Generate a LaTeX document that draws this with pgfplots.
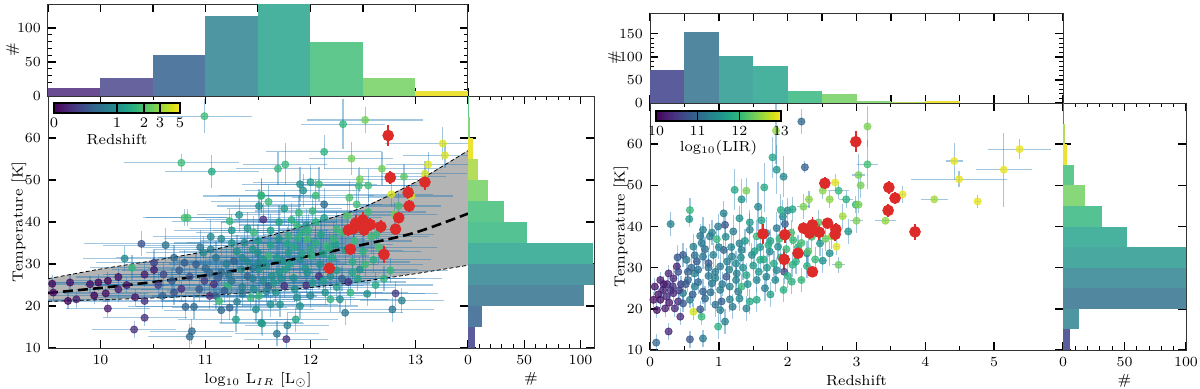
\documentclass[border=0pt]{standalone}
\usepackage{pgfplots}
\pgfplotsset{compat=1.18}
\usepackage{pgfplotstable}
\usetikzlibrary{calc}

\definecolor{errc}{HTML}{1F77B4}
\definecolor{redc}{HTML}{DC2B29}
\definecolor{bandc}{HTML}{B4B4B4}
\definecolor{v1}{HTML}{6A4C93}
\definecolor{v2}{HTML}{66639F}
\definecolor{v3}{HTML}{5A5C9C}
\definecolor{v4}{HTML}{52799F}
\definecolor{v5}{HTML}{5287A0}
\definecolor{v6}{HTML}{4E96A1}
\definecolor{v7}{HTML}{49A9A0}
\definecolor{v8}{HTML}{48B29E}
\definecolor{v9}{HTML}{55C294}
\definecolor{v10}{HTML}{5FC88C}
\definecolor{v11}{HTML}{88D778}
\definecolor{v12}{HTML}{B5DD5C}
\definecolor{v13}{HTML}{EBE235}

\pgfplotsset{
  panel/.style={
    scale only axis, anchor=south west,
    font=\fontsize{7.3}{8.8}\selectfont,
    tick align=inside, tick pos=both,
    major tick length=4pt, minor tick length=2pt,
    tick style={black, line width=0.7pt},
    minor tick style={line width=0.45pt},
    axis line style={black!80, line width=0.5pt},
    xlabel shift=-2.5pt, ylabel shift=-7.5pt,
  },
  tophist/.style={ylabel shift=-8pt},
  cbar/.style={
    scale only axis, anchor=north west,
    font=\fontsize{7.3}{8.8}\selectfont,
    height=5pt, xticklabel pos=lower,
    major tick length=5pt, tick align=inside,
    tick style={black, line width=0.7pt},
    minor tick num=0,
    axis line style={black, line width=0.6pt},
    xticklabel style={yshift=1pt},
    xlabel style={yshift=4pt},
  },
  errs/.style={draw=none, forget plot,
    error bars/.cd, x dir=both, x explicit, y dir=both, y explicit, error mark=none,
    error bar style={draw=errc, draw opacity=0.42, line width=0.6pt}},
  dots/.style={scatter, only marks, mark=*, mark size=1.8pt,
    scatter/use mapped color={draw=mapped color, fill=mapped color, opacity=0.75}},
  reds/.style={only marks, mark=*, mark size=2.7pt, color=redc,
    error bars/.cd, y dir=both, y explicit, error mark=none,
    error bar style={line width=0.9pt}},
}

% log10 LIR, T, errors, redshift
\pgfplotstableread{
x y ex ey c
10.99 65.2 0.45 4 1.8
10.77 54.1 0.55 2 1.8
11.06 52.0 0.45 4 1.4
10.80 41.0 0.40 2 1.9
10.83 41.0 0.40 2 1.9
11.32 41.7 0.40 4 1.0
11.23 40.2 0.55 3 1.7
10.39 34.8 0.55 3 0.45
10.62 34.5 0.60 4 0.7
10.23 31.3 0.40 3 0.9
10.30 29.1 0.40 3 1.7
10.51 30.3 0.55 3 0.35
10.51 28.6 0.40 3 0.25
10.42 27.5 0.40 3 0.25
10.17 26.9 0.40 2 0.22
10.07 26.0 0.40 2 0.2
9.98 25.6 0.40 2 0.2
9.90 25.2 0.40 2 0.22
9.71 25.6 0.40 2 0.22
9.54 25.3 0.40 2 0.2
9.55 23.2 0.40 2 0.22
9.69 21.2 0.40 2 0.2
9.77 21.6 0.40 2 0.25
9.94 22.5 0.40 2 0.2
10.07 19.4 0.40 2 0.25
10.17 24.0 0.40 3 0.25
10.33 22.1 0.40 2 0.25
10.42 21.2 0.40 2 0.3
10.42 17.2 0.40 2 0.3
10.32 14.4 0.40 2 0.3
10.68 26.0 0.55 3 0.5
10.70 23.2 0.55 3 0.45
10.77 24.1 0.55 3 0.3
10.59 22.4 0.55 3 0.55
10.81 19.8 0.55 3 0.55
10.89 19.8 0.55 3 0.6
10.87 14.0 0.40 3 0.6
10.85 12.7 0.40 3 0.6
10.91 29.9 0.55 3 0.5
10.98 32.7 0.55 4 0.9
10.80 30.3 0.55 3 0.5
11.04 27.9 0.55 4 0.55
10.99 26.0 0.55 3 0.35
11.12 26.7 0.55 3 0.5
11.21 24.8 0.55 3 1.6
11.10 22.4 0.55 3 0.55
11.23 19.6 0.55 3 0.55
11.13 21.2 0.55 3 1.8
11.29 16.8 0.55 3 1.2
11.34 28.7 0.55 3 0.9
11.27 30.7 0.55 4 0.55
11.37 35.1 0.55 4 0.9
11.46 37.5 0.55 4 1.7
11.50 32.7 0.55 3 1.0
11.53 46.4 0.40 4 1.6
11.51 43.8 0.40 4 1.0
11.40 27.1 0.55 3 0.55
11.46 24.0 0.55 3 1.0
11.43 22.0 0.55 3 1.7
11.53 16.0 0.40 3 1.0
11.08 25.2 0.55 3 0.3
11.18 23.6 0.55 3 0.5
10.94 24.0 0.55 3 0.5
11.04 22.4 0.55 3 0.3
12.31 63.3 0.40 6 1.7
12.52 64.3 0.55 3 2.5
12.13 56.7 0.55 4 1.6
12.39 55.1 0.40 4 2.5
11.69 52.7 0.40 4 1.7
11.76 53.7 0.40 5 1.7
12.68 52.7 0.55 4 2.5
12.89 50.8 0.40 3 2.2
13.26 58.7 0.55 4 4.2
13.28 55.9 0.40 3 4.2
13.12 53.7 0.40 3 4.2
13.09 51.5 0.40 3 4.0
12.77 46.6 0.40 3 4.2
12.96 46.2 0.40 3 4.2
11.90 49.0 0.55 4 1.0
12.00 49.5 0.55 4 1.2
12.08 49.0 0.55 4 1.8
11.93 47.5 0.55 4 1.0
11.53 46.2 0.55 4 1.6
11.60 44.8 0.55 4 1.8
11.75 43.2 0.55 4 1.2
12.05 46.3 0.55 4 1.8
12.13 44.2 0.55 4 0.6
12.37 45.8 0.55 4 2.0
12.46 48.6 0.55 4 1.8
12.47 50.2 0.55 3 2.5
12.55 48.7 0.55 4 1.9
12.44 44.2 0.55 4 1.9
11.89 42.2 0.55 4 1.8
12.02 42.6 0.55 4 1.7
12.13 41.0 0.55 4 1.2
11.87 39.3 0.55 4 1.7
11.96 39.2 0.55 4 1.0
11.55 40.6 0.55 4 0.3
12.25 38.3 0.55 4 1.7
12.55 42.4 0.55 4 1.9
12.80 41.8 0.40 3 2.5
12.84 43.8 0.40 3 1.9
12.63 37.1 0.55 3 1.8
11.79 36.7 0.55 4 1.6
11.97 35.9 0.55 4 1.9
12.15 34.3 0.55 4 1.8
12.24 34.7 0.55 4 1.2
12.33 33.3 0.55 3 1.2
11.60 31.9 0.55 4 1.8
11.79 32.7 0.55 4 1.2
11.90 31.1 0.55 4 1.0
12.01 31.9 0.55 4 1.6
12.09 29.9 0.55 4 1.0
11.73 30.7 0.55 4 1.0
11.51 28.7 0.55 3 1.0
11.63 27.1 0.55 3 1.0
11.76 28.7 0.55 3 1.2
11.84 26.7 0.55 3 1.0
11.97 27.9 0.55 3 1.0
12.08 27.1 0.55 3 0.3
12.19 27.1 0.55 3 1.0
12.30 26.5 0.55 3 0.55
12.36 25.7 0.55 3 0.3
12.47 28.7 0.55 3 1.0
12.52 29.9 0.55 3 1.8
12.76 28.5 0.55 3 1.7
11.96 24.9 0.55 3 0.3
11.75 24.8 0.55 3 0.3
11.60 24.8 0.55 3 0.55
11.51 22.4 0.55 3 1.7
11.67 23.2 0.55 3 1.0
11.87 22.0 0.55 3 1.0
12.14 23.2 0.55 3 1.0
12.19 21.6 0.55 3 1.6
12.28 21.6 0.55 3 1.0
12.38 23.2 0.55 3 1.7
12.54 22.9 0.55 3 1.0
12.81 23.0 0.40 3 0.35
12.87 21.3 0.40 3 0.8
12.78 19.2 0.40 3 0.7
12.33 18.4 0.55 3 0.7
11.54 15.8 0.40 3 1.2
11.78 15.4 0.40 3 0.8
11.68 13.4 0.40 3 0.7
11.77 12.1 0.40 3 0.3
11.86 16.8 0.40 3 1.3
11.62 20.4 0.55 3 1.0
11.71 20.4 0.55 3 1.0
11.48 19.2 0.55 3 1.0
11.20 30.0 0.55 4 0.8
11.30 33.0 0.55 4 1.0
11.40 30.5 0.55 4 0.9
11.45 29.0 0.55 3 0.7
11.55 31.0 0.55 4 1.1
11.62 34.5 0.55 4 1.3
11.70 36.0 0.55 4 1.1
11.85 34.0 0.55 4 1.4
11.92 37.5 0.55 4 1.5
12.10 37.0 0.55 4 1.3
12.20 31.5 0.55 4 1.4
11.15 28.0 0.55 3 0.6
11.25 26.0 0.55 3 0.7
11.35 24.5 0.55 3 0.8
11.55 26.0 0.55 3 0.9
11.65 25.5 0.55 3 1.1
11.80 30.0 0.55 4 1.2
12.00 33.5 0.55 4 1.5
11.40 38.5 0.55 4 1.1
11.70 40.0 0.55 4 1.4
11.10 31.5 0.55 4 0.7
11.00 29.0 0.55 3 0.6
10.85 27.0 0.55 3 0.45
10.75 28.5 0.55 3 0.5
11.50 35.5 0.55 4 1.2
12.40 30.5 0.55 4 1.5
12.25 28.5 0.55 3 1.2
11.95 29.0 0.55 3 1.1
11.30 21.0 0.55 3 0.8
11.90 20.0 0.55 3 1.0
11.05 33.5 0.55 4 0.8
11.15 36.0 0.55 4 0.9
11.25 38.0 0.55 4 1.1
11.35 31.5 0.55 4 0.9
11.45 33.5 0.55 4 1.1
11.58 29.5 0.55 3 1.0
11.68 31.5 0.55 4 1.2
11.78 34.8 0.55 4 1.4
11.88 36.2 0.55 4 1.6
11.98 38.0 0.55 4 1.7
12.05 35.0 0.55 4 1.5
12.12 32.5 0.55 4 1.3
12.22 36.0 0.55 4 1.7
12.30 37.5 0.55 4 1.9
12.42 35.5 0.55 4 1.8
12.50 33.0 0.55 4 1.6
12.60 31.0 0.55 3 1.5
12.65 34.0 0.55 4 2.1
11.62 38.0 0.55 4 1.3
11.82 40.5 0.55 4 1.5
12.05 40.0 0.55 4 1.6
12.35 41.5 0.55 4 2.0
11.25 35.0 0.55 4 1.0
11.05 36.5 0.55 4 0.9
10.95 34.0 0.55 4 0.7
10.70 31.5 0.55 3 0.6
10.60 27.5 0.55 3 0.4
10.55 25.0 0.55 3 0.35
10.25 25.0 0.40 2 0.25
10.05 23.0 0.40 2 0.22
11.45 26.5 0.55 3 0.8
11.58 23.5 0.55 3 0.9
11.72 26.5 0.55 3 1.0
11.85 24.0 0.55 3 1.0
12.02 25.5 0.55 3 1.1
12.12 26.0 0.55 3 1.2
12.25 24.5 0.55 3 1.2
12.45 26.5 0.55 3 1.3
12.62 25.0 0.55 3 1.4
12.00 22.5 0.55 3 0.9
11.35 23.0 0.55 3 0.7
11.22 27.5 0.55 3 0.7
11.50 30.0 0.55 3 0.9
11.92 32.5 0.55 4 1.3
12.18 33.8 0.55 4 1.5
12.58 36.5 0.55 4 1.8
11.70 28.0 0.55 3 1.1
12.40 28.0 0.55 3 1.4
12.70 26.5 0.55 3 1.6
11.15 19.0 0.55 3 0.6
}\lirdata

\pgfplotstableread{
x y ey
12.74 60.6 2.5
12.76 50.6 1.5
13.09 49.5 1.8
12.93 47.0 1.5
12.94 43.8 1.5
12.84 41.0 1.2
12.81 38.3 1.2
12.67 38.9 1.5
12.57 39.4 1.5
12.50 40.5 1.8
12.43 39.7 2.0
12.51 38.1 1.5
12.36 38.1 1.5
12.41 38.4 2.0
12.38 33.5 1.0
12.70 32.3 2.0
12.18 29.0 1.0
}\lirred

% redshift, T, errors, log10 LIR
\pgfplotstableread{
x y ex ey c
2.20 65.5 0.03 3 11.0
2.25 54.4 0.02 1.5 10.9
1.83 63.3 0.02 8 12.5
1.78 56.8 0.02 5 11.8
1.84 53.8 0.03 6 11.6
1.94 52.1 0.03 5 11.4
2.69 50.7 0.05 2 12.9
2.51 48.7 0.05 2 12.5
2.74 48.7 0.15 2 12.0
1.23 48.9 0.02 5 11.8
1.40 48.7 0.03 3 12.4
1.66 49.5 0.02 6 11.8
1.33 46.6 0.02 5 11.5
0.58 44.0 0.02 3 12.0
0.57 41.8 0.02 2 11.6
0.30 40.6 0.02 3 11.3
1.57 44.8 0.03 6 11.4
2.00 43.9 0.05 3 11.4
2.07 44.2 0.05 3 11.8
2.23 44.8 0.10 3 12.4
2.31 46.6 0.05 2 12.5
2.61 46.6 0.05 2 12.5
2.85 46.6 0.10 2 11.9
2.99 45.3 0.05 2 12.0
1.93 42.4 0.02 4 11.4
1.84 39.6 0.02 4 11.2
1.96 40.6 0.02 4 10.9
1.07 43.2 0.02 3 11.3
1.09 40.4 0.02 3 10.8
0.99 40.0 0.02 3 11.2
0.77 39.2 0.02 3 11.3
0.87 37.6 0.02 3 11.3
0.73 37.7 0.02 3 11.2
1.21 38.8 0.02 4 11.2
1.30 35.9 0.02 3 11.3
1.45 39.2 0.02 4 11.3
1.55 37.6 0.02 4 12.0
1.69 38.4 0.02 4 11.4
0.97 36.9 0.02 3 12.0
0.63 35.1 0.02 3 11.3
0.48 33.1 0.02 3 10.8
0.77 32.7 0.02 3 11.2
0.92 33.1 0.02 3 11.3
1.07 34.3 0.02 3 10.9
1.19 32.7 0.02 3 11.3
1.33 34.3 0.02 3 11.3
1.48 33.1 0.02 3 11.4
1.60 31.9 0.02 3 11.9
1.74 33.9 0.02 3 11.4
1.86 35.1 0.02 3 11.5
2.08 36.7 0.03 3 12.0
2.28 33.5 0.03 3 11.4
2.47 35.9 0.05 3 11.6
2.64 37.6 0.05 3 12.5
2.71 35.1 0.05 2 12.9
2.88 38.8 0.05 3 11.6
2.61 33.5 0.05 3 11.5
2.74 30.7 0.10 2 12.3
2.51 31.7 0.05 3 11.5
2.28 30.4 0.03 3 11.9
2.07 30.7 0.03 3 11.9
1.95 29.0 0.02 3 10.6
1.84 29.4 0.02 3 11.4
1.69 27.8 0.02 3 11.4
1.55 27.0 0.02 3 11.4
1.40 28.2 0.02 3 11.8
1.26 28.6 0.02 3 11.3
1.11 27.8 0.02 3 10.8
1.02 30.3 0.02 3 11.2
0.85 31.1 0.02 3 10.8
0.68 31.5 0.02 3 10.8
0.53 31.9 0.02 3 11.2
0.39 30.3 0.02 3 10.3
0.27 28.6 0.02 2 10.3
0.15 27.0 0.02 2 10.2
0.07 25.4 0.01 2 10.1
0.19 24.6 0.01 2 10.2
0.05 22.2 0.01 2 10.1
0.15 22.2 0.01 2 10.1
0.24 23.0 0.01 2 10.3
0.34 23.8 0.01 2 10.3
0.41 21.8 0.01 2 10.3
0.22 20.1 0.01 2 10.2
0.10 19.7 0.01 2 10.1
0.36 20.1 0.01 2 10.3
0.48 21.3 0.02 2 10.8
0.58 22.2 0.02 2 11.2
0.63 19.3 0.02 2 12.8
0.75 18.1 0.02 2 12.0
0.73 19.9 0.02 2 10.8
0.48 23.8 0.02 2 11.3
0.65 25.4 0.02 3 11.3
0.77 24.2 0.02 3 10.9
0.90 26.2 0.02 3 11.2
1.02 24.6 0.02 3 11.3
1.16 25.4 0.02 3 11.3
1.04 21.8 0.02 3 10.9
1.16 22.3 0.02 3 11.3
1.02 19.7 0.02 3 11.3
1.09 16.9 0.02 3 11.3
0.99 15.7 0.02 3 11.9
1.28 24.2 0.02 3 11.2
1.33 25.4 0.02 3 12.0
1.45 21.8 0.02 3 11.8
1.55 22.2 0.02 3 11.8
1.67 25.0 0.02 3 11.3
1.82 27.0 0.02 3 11.4
1.94 24.6 0.02 3 11.9
2.06 26.6 0.03 3 11.9
1.40 20.1 0.02 3 11.3
0.27 14.5 0.01 2 10.3
0.09 11.8 0.01 2 11.0
0.58 12.6 0.02 2 10.8
0.77 12.8 0.02 2 11.2
0.44 18.1 0.01 2 10.3
0.34 27.4 0.02 3 10.3
0.41 29.0 0.02 3 10.7
0.65 28.6 0.02 3 11.3
3.16 64.3 0.02 5 12.4
3.16 55.1 0.15 6 12.1
3.03 52.5 0.10 5 12.4
3.06 50.0 0.03 3 12.4
3.03 45.3 0.05 2 12.4
3.00 41.4 0.10 3 12.4
3.42 41.4 0.15 0.5 12.5
3.67 47.8 0.05 2 12.9
4.13 46.6 0.20 0.5 12.6
4.42 55.9 0.12 4.5 12.9
4.49 51.5 0.70 2 12.9
4.76 46.1 0.05 1.5 12.9
5.14 53.8 0.41 9 12.9
5.37 58.8 0.46 2.5 12.9
0.55 27.0 0.02 3 11.0
0.70 29.5 0.02 3 11.1
0.85 28.0 0.02 3 11.2
0.95 27.5 0.02 3 11.3
1.15 29.5 0.02 3 11.3
1.25 31.0 0.02 3 11.4
1.35 30.0 0.02 3 11.5
1.50 30.5 0.02 3 11.6
1.60 35.0 0.02 3 11.6
1.75 36.5 0.02 3 11.7
1.90 32.5 0.02 3 11.8
2.15 35.0 0.03 3 11.9
2.35 37.5 0.03 3 12.1
1.00 35.0 0.02 3 11.3
0.80 34.5 0.02 3 11.1
0.60 30.0 0.02 3 11.0
0.45 26.0 0.02 2 10.6
0.30 24.5 0.02 2 10.4
0.25 26.0 0.02 2 10.4
1.20 20.5 0.02 3 11.2
1.70 30.0 0.02 3 11.6
2.45 41.0 0.05 3 12.2
2.80 42.5 0.05 3 12.6
1.30 42.0 0.02 3 11.5
0.12 23.5 0.01 2 10.1
0.20 26.0 0.01 2 10.2
0.28 21.5 0.01 2 10.2
0.33 25.5 0.02 2 10.4
0.42 24.5 0.02 2 10.5
0.52 26.0 0.02 3 10.8
0.62 23.5 0.02 3 10.9
0.70 26.5 0.02 3 11.0
0.80 22.5 0.02 3 11.0
0.88 24.0 0.02 3 11.1
0.95 29.0 0.02 3 11.2
1.05 26.0 0.02 3 11.2
1.12 31.5 0.02 3 11.3
1.18 35.0 0.02 3 11.4
1.25 27.0 0.02 3 11.3
1.32 32.5 0.02 3 11.5
1.38 36.5 0.02 3 11.6
1.42 26.0 0.02 3 11.5
1.52 34.0 0.02 3 11.7
1.58 29.0 0.02 3 11.6
1.65 32.0 0.02 3 11.8
1.72 35.5 0.02 3 11.9
1.80 31.0 0.02 3 11.8
1.88 37.0 0.02 3 12.0
1.98 34.5 0.02 3 12.0
2.05 38.5 0.03 3 12.1
2.12 31.5 0.03 3 11.9
2.20 36.0 0.03 3 12.1
2.30 34.0 0.03 3 12.2
2.40 32.0 0.03 3 12.0
2.55 37.0 0.05 3 12.3
0.75 36.0 0.02 3 11.2
0.90 38.5 0.02 3 11.3
0.65 33.0 0.02 3 11.1
0.55 29.0 0.02 3 10.9
0.85 30.0 0.02 3 11.1
1.10 37.5 0.02 3 11.4
1.45 41.0 0.02 3 11.6
1.62 41.5 0.02 4 11.7
1.90 44.0 0.02 4 11.9
0.40 32.5 0.02 3 10.8
0.95 21.0 0.02 3 11.1
1.30 22.5 0.02 3 11.4
1.75 23.5 0.02 3 11.7
2.00 28.0 0.02 3 11.9
2.20 27.0 0.03 3 12.0
}\zdata

\pgfplotstableread{
x y ey
2.99 60.6 2.5
2.54 50.5 1.5
1.64 38.2 2.5
1.96 38.0 2.0
1.95 32.0 2.5
2.15 33.5 1.0
2.23 39.6 1.5
2.36 40.4 2.0
2.32 38.4 1.5
2.46 38.6 2.0
2.58 40.8 1.0
2.70 39.3 1.5
2.69 38.1 1.5
2.36 29.0 1.0
3.47 49.5 1.5
3.56 46.9 1.5
3.46 43.9 1.5
3.85 38.7 2.0
}\zred

\begin{document}
\begin{tikzpicture}
\path[use as bounding box] (0,0) rectangle (600pt,194pt);

% ---------------- left panel: T vs LIR ----------------
\begin{axis}[panel, at={(24pt,20pt)}, width=210pt, height=126pt,
  xmin=9.5, xmax=13.5, ymin=10, ymax=70,
  xtick={10,11,12,13}, minor x tick num=1, ytick={10,20,...,60},
  xlabel={log$_{10}$ L$_{IR}$ [L$_\odot$]}, ylabel={Temperature [K]},
  colormap/viridis, point meta min=-1.6094, point meta max=1.6094,
  colorbar horizontal,
  colorbar style={cbar, at={($(parent axis.north west)+(3pt,5pt)$)}, width=63pt,
    xtick={-1.609,0,0.6931,1.0986,1.609}, xticklabels={0,1,2,3,5},
    xlabel={Redshift}},
]
% model band: upper curve left to right, then lower curve right to left
\addplot[fill=bandc, draw=none, forget plot] coordinates {
  (9.5,26.5) (10,28.8) (10.5,30.8) (11,33.0) (11.5,36.0) (12,39.5) (12.5,43.5) (13,49.5) (13.5,57.0)
  (13.5,29.7) (13,27.7) (12.5,25.9) (12,24.4) (11.5,23.3) (11,22.5) (10.5,21.9) (10,21.5) (9.5,21.1)};
\addplot[errs] table[x=x, y=y, x error=ex, y error=ey] {\lirdata};
\addplot[dots, point meta={ln(\thisrow{c})}] table[x=x, y=y] {\lirdata};
\addplot[black, line width=0.4pt, dash pattern=on 2pt off 1.2pt, smooth]
  coordinates {(9.5,26.5) (10,28.8) (10.5,30.8) (11,33.0) (11.5,36.0) (12,39.5) (12.5,43.5) (13,49.5) (13.5,57.0)};
\addplot[black, line width=0.4pt, dash pattern=on 2pt off 1.2pt, smooth]
  coordinates {(9.5,21.1) (10,21.5) (10.5,21.9) (11,22.5) (11.5,23.3) (12,24.4) (12.5,25.9) (13,27.7) (13.5,29.7)};
\addplot[black, line width=1.3pt, dash pattern=on 5pt off 2.5pt, smooth]
  coordinates {(9.5,23.1) (10,24.3) (10.5,25.7) (11,27.3) (11.5,29.4) (12,32.0) (12.5,34.6) (13,37.5) (13.5,42.0)};
\addplot[reds] table[x=x, y=y, y error=ey] {\lirred};
\end{axis}

\begin{axis}[panel, tophist, at={(24pt,146pt)}, width=210pt, height=46pt,
  xmin=9.5, xmax=13.5, ymin=0, ymax=135,
  xtick distance=0.5, xticklabel=\empty, ytick={0,50,100}, minor y tick num=4,
  ylabel={\#}]
\addplot[ybar interval, fill=v1, draw=none] coordinates {(9.5,12) (10,12)};
\addplot[ybar interval, fill=v2, draw=none] coordinates {(10,26) (10.5,26)};
\addplot[ybar interval, fill=v4, draw=none] coordinates {(10.5,60) (11,60)};
\addplot[ybar interval, fill=v6, draw=none] coordinates {(11,117) (11.5,117)};
\addplot[ybar interval, fill=v8, draw=none] coordinates {(11.5,137) (12,137)};
\addplot[ybar interval, fill=v10, draw=none] coordinates {(12,79) (12.5,79)};
\addplot[ybar interval, fill=v11, draw=none] coordinates {(12.5,26) (13,26)};
\addplot[ybar interval, fill=v13, draw=none] coordinates {(13,7) (13.5,7)};
\end{axis}

\begin{axis}[panel, at={(234pt,20pt)}, width=63pt, height=126pt,
  xmin=0, xmax=112, ymin=10, ymax=70,
  xtick={0,50,100}, minor x tick num=4, ytick={10,20,...,60}, yticklabel=\empty,
  xlabel={\#}]
\addplot[xbar interval, fill=v3, draw=none] coordinates {(6,10) (6,15)};
\addplot[xbar interval, fill=v4, draw=none] coordinates {(12,15) (12,20)};
\addplot[xbar interval, fill=v5, draw=none] coordinates {(103,20) (103,25)};
\addplot[xbar interval, fill=v6, draw=none] coordinates {(114,25) (114,30)};
\addplot[xbar interval, fill=v8, draw=none] coordinates {(111,30) (111,35)};
\addplot[xbar interval, fill=v9, draw=none] coordinates {(52,35) (52,40)};
\addplot[xbar interval, fill=v10, draw=none] coordinates {(32,40) (32,45)};
\addplot[xbar interval, fill=v11, draw=none] coordinates {(18,45) (18,50)};
\addplot[xbar interval, fill=v12, draw=none] coordinates {(9,50) (9,55)};
\addplot[xbar interval, fill=v13, draw=none] coordinates {(4,55) (4,60)};
\addplot[xbar interval, fill=v11, draw=none] coordinates {(2,60) (2,65)};
\addplot[xbar interval, fill=v10, draw=none] coordinates {(1,65) (1,70)};
\end{axis}

% ---------------- right panel: T vs redshift ----------------
\begin{axis}[panel, at={(325pt,19pt)}, width=206.5pt, height=123.5pt,
  xmin=0, xmax=6, ymin=10, ymax=70,
  xtick={0,1,2,3,4,5}, minor x tick num=1, ytick={10,20,...,60},
  xlabel={Redshift}, ylabel={Temperature [K]},
  colormap/viridis, point meta min=10, point meta max=13,
  colorbar horizontal,
  colorbar style={cbar, at={($(parent axis.north west)+(3pt,4.5pt)$)}, width=62.5pt,
    xtick={10,11,12,13}, xlabel={log$_{10}$(LIR)}},
]
\addplot[errs] table[x=x, y=y, x error=ex, y error=ey] {\zdata};
\addplot[dots, point meta={\thisrow{c}}] table[x=x, y=y] {\zdata};
\addplot[reds] table[x=x, y=y, y error=ey] {\zred};
\end{axis}

\begin{axis}[panel, tophist, at={(325pt,142.5pt)}, width=206.5pt, height=45pt,
  xmin=0, xmax=6, ymin=0, ymax=195,
  xtick distance=0.5, xticklabel=\empty, ytick={0,50,100,150}, minor y tick num=4,
  ylabel={\#}]
\addplot[ybar interval, fill=v3, draw=none] coordinates {(0,71) (0.5,71)};
\addplot[ybar interval, fill=v5, draw=none] coordinates {(0.5,154) (1,154)};
\addplot[ybar interval, fill=v7, draw=none] coordinates {(1,101) (1.5,101)};
\addplot[ybar interval, fill=v8, draw=none] coordinates {(1.5,80) (2,80)};
\addplot[ybar interval, fill=v9, draw=none] coordinates {(2,27) (2.5,27)};
\addplot[ybar interval, fill=v11, draw=none] coordinates {(2.5,19.5) (3,19.5)};
\addplot[ybar interval, fill=v11, draw=none] coordinates {(3,5) (3.5,5)};
\addplot[ybar interval, fill=v12, draw=none] coordinates {(3.5,1.5) (4,1.5)};
\addplot[ybar interval, fill=v13, draw=none] coordinates {(4,3.5) (4.5,3.5)};
\end{axis}

\begin{axis}[panel, at={(531.5pt,19pt)}, width=61.5pt, height=123.5pt,
  xmin=0, xmax=100, ymin=10, ymax=70,
  xtick={0,50,100}, minor x tick num=4, ytick={10,20,...,60}, yticklabel=\empty,
  xlabel={\#}]
\addplot[xbar interval, fill=v3, draw=none] coordinates {(6,10) (6,15)};
\addplot[xbar interval, fill=v6, draw=none] coordinates {(13,15) (13,20)};
\addplot[xbar interval, fill=v5, draw=none] coordinates {(104,20) (104,25)};
\addplot[xbar interval, fill=v6, draw=none] coordinates {(104,25) (104,30)};
\addplot[xbar interval, fill=v7, draw=none] coordinates {(104,30) (104,35)};
\addplot[xbar interval, fill=v8, draw=none] coordinates {(52,35) (52,40)};
\addplot[xbar interval, fill=v9, draw=none] coordinates {(32,40) (32,45)};
\addplot[xbar interval, fill=v11, draw=none] coordinates {(18,45) (18,50)};
\addplot[xbar interval, fill=v10, draw=none] coordinates {(9,50) (9,55)};
\addplot[xbar interval, fill=v13, draw=none] coordinates {(3.5,55) (3.5,60)};
\addplot[xbar interval, fill=v12, draw=none] coordinates {(2,60) (2,65)};
\addplot[xbar interval, fill=v4, draw=none] coordinates {(0.5,65) (0.5,70)};
\end{axis}
\end{tikzpicture}
\end{document}
